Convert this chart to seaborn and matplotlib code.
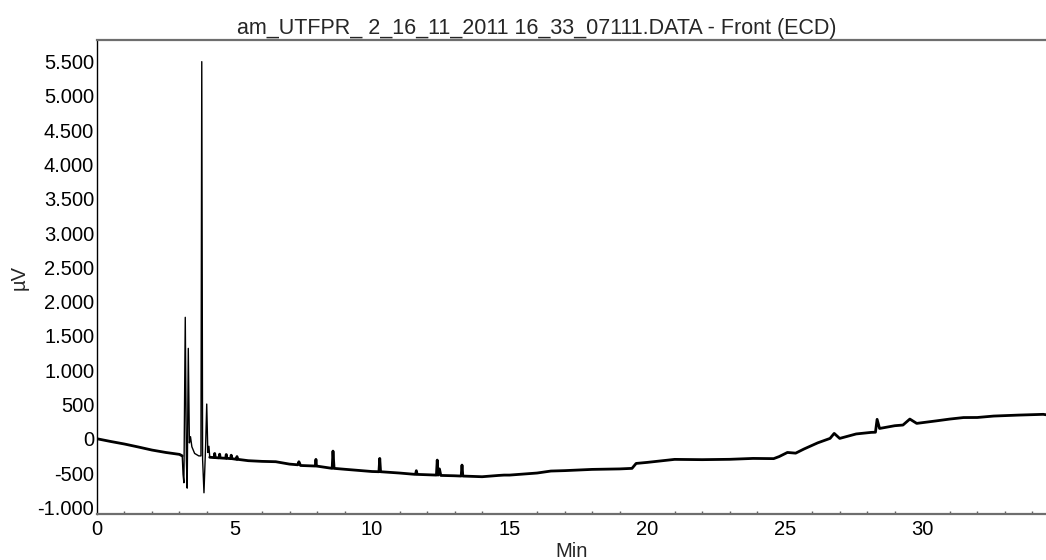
import matplotlib
matplotlib.use("Agg")
import matplotlib.pyplot as plt
from matplotlib.ticker import FuncFormatter, MultipleLocator
import seaborn as sns
import pandas as pd

# ECD detector trace (retention time in minutes, signal in µV)
time_min = [
    0.00, 0.50, 1.00, 1.50, 2.00, 2.50, 3.00, 3.10, 3.13, 3.16,
    3.21, 3.25, 3.28, 3.32, 3.36, 3.40, 3.45, 3.55, 3.70, 3.78,
    3.81, 3.84, 3.89, 3.95, 3.99, 4.03, 4.07, 4.10, 4.26, 4.28,
    4.30, 4.44, 4.46, 4.48, 4.68, 4.70, 4.72, 4.86, 4.88, 4.90,
    5.07, 5.09, 5.11, 5.50, 6.00, 6.50, 7.00, 7.30, 7.34, 7.40,
    7.94, 7.96, 7.98, 8.55, 8.58, 8.62, 9.00, 10.00, 10.25, 10.28,
    10.31, 11.00, 11.58, 11.61, 11.64, 12.00, 12.34, 12.37, 12.40, 12.45,
    12.50, 13.00, 13.24, 13.27, 13.30, 14.00, 14.60, 14.80, 15.00, 16.00,
    16.50, 17.00, 18.00, 19.00, 19.45, 19.60, 20.00, 21.00, 22.00, 23.00,
    23.85, 24.60, 24.80, 25.10, 25.40, 25.70, 26.20, 26.65, 26.80, 27.00,
    27.60, 28.15, 28.30, 28.36, 28.45, 29.00, 29.30, 29.55, 29.80, 30.50,
    31.00, 31.50, 32.00, 32.60, 33.50, 34.40, 34.50,
]
signal_uv = [
    0, -40, -77, -120, -165, -200, -228, -250, -520, -642,
    1771, -300, -720, 1318, -60, 30, -117, -214, -250, -250,
    5500, -300, -788, -100, 506, -200, -110, -270, -275, -215,
    -275, -280, -225, -280, -285, -230, -285, -290, -240, -290,
    -300, -260, -300, -320, -330, -335, -370, -380, -335, -390,
    -398, -301, -398, -432, -180, -432, -445, -478, -481, -287,
    -481, -500, -520, -466, -520, -525, -530, -311, -530, -440,
    -535, -540, -544, -384, -544, -554, -535, -530, -530, -500,
    -471, -465, -447, -440, -432, -360, -345, -301, -305, -300,
    -287, -290, -260, -200, -210, -150, -60, 5, 78, 5,
    70, 93, 95, 283, 150, 190, 200, 287, 224, 260,
    287, 309, 310, 331, 345, 356, 350,
]

title_text = "am_UTFPR_ 2_16_11_2011 16_33_07111.DATA - Front (ECD)"
x_label = "Min"
y_label = "µV"
x_ticks = [0, 5, 10, 15, 20, 25, 30]
y_ticks = [-1000, -500, 0, 500, 1000, 1500, 2000, 2500, 3000, 3500, 4000, 4500, 5000, 5500]

sns.set_theme(style="white")
plt.rcParams["font.family"] = ["Liberation Sans", "DejaVu Sans"]

df = pd.DataFrame({"t": time_min, "v": signal_uv})
# the sharp early peaks are drawn with a finer pen than the noisy baseline
lead = df[df["t"] <= 3.10]
peaks = df[(df["t"] >= 3.10) & (df["t"] <= 4.10)]
tail = df[df["t"] >= 4.10]

fig = plt.figure(figsize=(10.46, 5.60), dpi=100)
ax = fig.add_axes([0.0927, 0.0816, 0.9073, 0.847])

for part, lw in [(lead, 2.0), (peaks, 1.0), (tail, 2.0)]:
    sns.lineplot(data=part, x="t", y="v", ax=ax, color="black", linewidth=lw,
                 estimator=None, sort=False)

ax.set_xlim(0, 34.5)
ax.set_ylim(-1102, 5816)
ax.set_xticks(x_ticks)
ax.set_yticks(y_ticks)
ax.xaxis.set_minor_locator(MultipleLocator(1))


def thousands_dot(v, pos):
    s = f"{abs(v):,.0f}".replace(",", ".")
    return ("-" + s) if v < 0 else s


ax.yaxis.set_major_formatter(FuncFormatter(thousands_dot))

ax.tick_params(axis="both", which="major", direction="in", length=3, width=1,
               labelsize=14.5, colors="#606060", labelcolor="black", pad=2)
ax.tick_params(axis="x", which="minor", direction="in", length=2, width=1,
               colors="#606060", bottom=True)
ax.tick_params(axis="x", which="major", pad=4)

ax.spines["right"].set_visible(False)
ax.spines["left"].set_color("black")
ax.spines["left"].set_linewidth(1.0)
ax.spines["bottom"].set_color("#6e6e6e")
ax.spines["bottom"].set_linewidth(1.6)
ax.spines["top"].set_color("#6e6e6e")
ax.spines["top"].set_linewidth(1.6)

ax.set_xlabel(x_label, fontsize=14.5, labelpad=2)
ax.set_ylabel(y_label, fontsize=14.5, labelpad=6)
fig.text(0.513, 0.931, title_text, fontsize=15.5, ha="center", va="bottom")

fig.savefig("out.png", dpi=100)
